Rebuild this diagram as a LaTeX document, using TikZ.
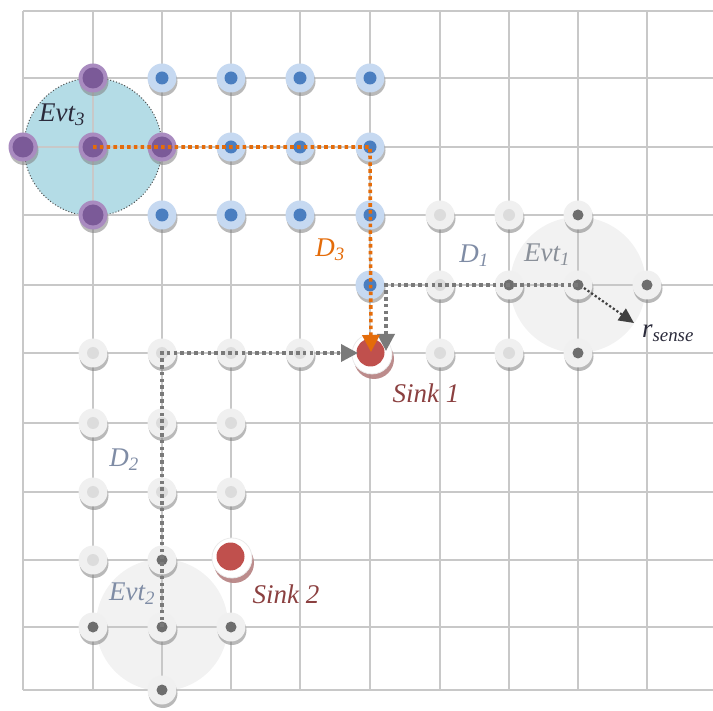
\documentclass[tikz,border=0pt]{standalone}
\usepackage{fontspec}
\setmainfont{Liberation Serif}
\usetikzlibrary{shadows,arrows.meta,calc}
\definecolor{gridc}{HTML}{C8C8C8}
\definecolor{blueout}{HTML}{C6D9F1}
\definecolor{bluein}{HTML}{4A7EC0}
\definecolor{purpout}{HTML}{A98BC0}
\definecolor{purpin}{HTML}{7B5A98}
\definecolor{grayout}{HTML}{F0F0F0}
\definecolor{graylight}{HTML}{DCDCDC}
\definecolor{graydark}{HTML}{6E6E6E}
\definecolor{sinkred}{HTML}{C0504D}
\definecolor{sinkshadow}{HTML}{B58080}
\definecolor{evtblue}{HTML}{B4DCE6}
\definecolor{evtgray}{HTML}{F2F2F2}
\definecolor{orangec}{HTML}{E46C0A}
\definecolor{pathgray}{HTML}{7A7A7A}
\definecolor{txtdark}{HTML}{2B2B3B}
\definecolor{txtblue}{HTML}{7F8CA5}
\definecolor{txtgray}{HTML}{8A9099}
\definecolor{txtsink}{HTML}{8B4040}
\begin{document}
\begin{tikzpicture}[x=1pt,y=-1pt,
  gridline/.style={draw=gridc, line width=1.8pt},
  sensor/.style={circle, minimum size=29pt, inner sep=0pt,
    drop shadow={shadow xshift=1pt, shadow yshift=-3.5pt, fill=black!50, opacity=0.55}},
  bluesn/.style={sensor, fill=blueout,
    path picture={\fill[bluein] (path picture bounding box.center) circle (6.5pt);}},
  purplesn/.style={sensor, fill=purpout,
    path picture={\fill[purpin] (path picture bounding box.center) circle (10.5pt);}},
  lightsn/.style={sensor, fill=grayout,
    path picture={\fill[graylight] (path picture bounding box.center) circle (6pt);}},
  darksn/.style={sensor, fill=grayout,
    path picture={\fill[graydark] (path picture bounding box.center) circle (5.5pt);}},
  sinknode/.style={circle, minimum size=40pt, inner sep=0pt, fill=white, draw=black!8, line width=0.8pt,
    drop shadow={shadow xshift=2pt, shadow yshift=-5pt, fill=sinkshadow, opacity=0.9},
    path picture={\fill[sinkred] ([xshift=-1.5pt,yshift=1.5pt]path picture bounding box.center) circle (14pt);}},
  dpath/.style={line width=3.6pt, dash pattern=on 3.6pt off 3.2pt},
  tip/.style={-{Triangle[length=17pt,width=17pt]}},
  lbl/.style={inner sep=0pt, font=\fontsize{27}{30}\selectfont\itshape}
]
\useasboundingbox (0,0) rectangle (713,711);
% event regions
\fill[evtblue] (93,147) circle (69pt);
\draw[dotted, line width=1pt, draw=black!70] (93,147) circle (69pt);
\fill[evtgray] (578,285) circle (68pt);
\fill[evtgray] (162,625) circle (66pt);
% grid
\foreach \x in {23,93,162,231,300,370,440,509,578,647}
  \draw[gridline] (\x,11) -- (\x,690);
\foreach \y in {11,78,147,215,285,353,423,492,560,627,690}
  \draw[gridline] (23,\y) -- (713,\y);
% sensors
\foreach \x/\y in {162/78,231/78,300/78,370/78,231/147,300/147,370/147,162/215,231/215,300/215,370/215,370/285}
  \node[bluesn] (n-\x-\y) at (\x,\y) {};
\foreach \x/\y in {93/78,23/147,93/147,162/147,93/215}
  \node[purplesn] (n-\x-\y) at (\x,\y) {};
\foreach \x/\y in {440/215,509/215,440/285,440/353,509/353,93/353,162/353,231/353,300/353,93/423,162/423,231/423,93/492,162/492,231/492,93/560}
  \node[lightsn] (n-\x-\y) at (\x,\y) {};
\foreach \x/\y in {578/215,509/285,578/285,647/285,578/353,162/560,93/627,162/627,231/627,162/690}
  \node[darksn] (n-\x-\y) at (\x,\y) {};
% sinks
\node[sinknode] (sink1) at (372,354) {};
\node[sinknode] (sink2) at (232,558) {};
% helper coordinates
\coordinate (d1a) at ($(n-370-285.center)+(16,0)$);
\coordinate (d1b) at ($(sink1.center)+(14,-3)$);
\coordinate (d2b) at ($(sink1.center)+(-14,-1)$);
\coordinate (d3b) at ($(sink1.center)+(-1,-2)$);
\coordinate (rs0) at ($(n-578-285.center)+(6,3)$);
\coordinate (rs1) at (634,323);
% paths
\draw[dpath, pathgray, tip] (n-578-285.center) -- (d1a) -- (d1b);
\draw[dpath, pathgray, tip] (n-162-627.center) -- (n-162-353.center) -- (d2b);
\draw[dpath, orangec, tip] (n-93-147.center) -- (n-370-147.center) -- (d3b);
\draw[line width=2.2pt, dash pattern=on 2.2pt off 2.2pt, black!75, -{Triangle[length=15pt,width=14pt]}] (rs0) -- (rs1);
% labels
\node[lbl, text=txtdark] (tevt3) at (62,115) {Evt\textsubscript{3}};
\node[lbl, text=orangec] (td3) at (330,250) {D\textsubscript{3}};
\node[lbl, text=txtblue] (td1) at (474,256) {D\textsubscript{1}};
\node[lbl, text=txtgray] (tevt1) at (547,255) {Evt\textsubscript{1}};
\node[lbl, text=txtdark] (trs) at (668,333) {r\textsubscript{sense}};
\node[lbl, text=txtsink] (ts1) at (426,393) {Sink 1};
\node[lbl, text=txtblue] (td2) at (124,460) {D\textsubscript{2}};
\node[lbl, text=txtblue] (tevt2) at (132,594) {Evt\textsubscript{2}};
\node[lbl, text=txtsink] (ts2) at (286,594) {Sink 2};
\end{tikzpicture}
\end{document}
